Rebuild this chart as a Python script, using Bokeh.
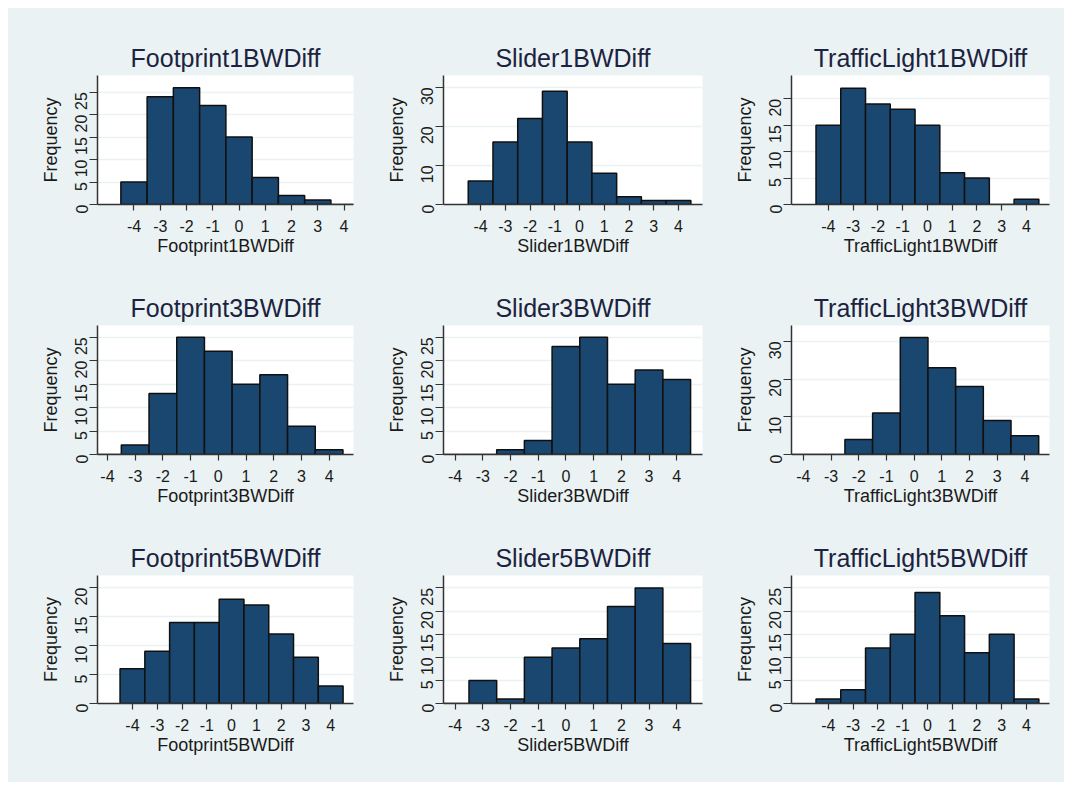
import math
from bokeh.plotting import figure
from bokeh.layouts import column, row
from bokeh.models import FixedTicker, Range1d, Spacer
from bokeh.embed import file_html
from bokeh.resources import INLINE

# ---- data ----
bins = [-4, -3, -2, -1, 0, 1, 2, 3, 4]
x_ticks = [-4, -3, -2, -1, 0, 1, 2, 3, 4]

footprint1 = [5, 24, 26, 22, 15, 6, 2, 1, 0]
slider1 = [6, 16, 22, 29, 16, 8, 2, 1, 1]
traffic1 = [15, 22, 19, 18, 15, 6, 5, 0, 1]
footprint3 = [0, 2, 13, 25, 22, 15, 17, 6, 1]
slider3 = [0, 0, 1, 3, 23, 25, 15, 18, 16]
traffic3 = [0, 0, 4, 11, 31, 23, 18, 9, 5]
footprint5 = [6, 9, 14, 14, 18, 17, 12, 8, 3]
slider5 = [0, 5, 1, 10, 12, 14, 21, 25, 13]
traffic5 = [1, 3, 12, 15, 24, 19, 11, 15, 1]

names = ["Footprint1BWDiff", "Slider1BWDiff", "TrafficLight1BWDiff",
         "Footprint3BWDiff", "Slider3BWDiff", "TrafficLight3BWDiff",
         "Footprint5BWDiff", "Slider5BWDiff", "TrafficLight5BWDiff"]
series = [footprint1, slider1, traffic1,
          footprint3, slider3, traffic3,
          footprint5, slider5, traffic5]
y_ticks = [[0, 5, 10, 15, 20, 25], [0, 10, 20, 30], [0, 5, 10, 15, 20],
           [0, 5, 10, 15, 20, 25], [0, 5, 10, 15, 20, 25], [0, 10, 20, 30],
           [0, 5, 10, 15, 20], [0, 5, 10, 15, 20, 25], [0, 5, 10, 15, 20, 25]]

# ---- layout / style ----
y_max = [28.7, 33.0, 24.4, 27.5, 27.5, 34.2, 22.1, 27.7, 27.7]
x_lo = [-5.39, -5.5, -5.49, -4.36, -4.42, -4.43, -5.41, -4.42, -5.49]
x_hi = [4.36, 4.97, 4.93, 4.88, 4.93, 4.89, 4.92, 4.93, 4.93]

col_w = 352
col_left = [89, 83, 79]
col_right = [7, 10, 15]
row_h = [250, 250, 274]
row_top = [67, 67, 67]
row_bottom = [53, 54, 79]

BG = "#EAF2F3"
BAR = "#1a476f"
FONT = "Liberation Sans"
TXT = "#1a1a1a"

figs = []
for i in range(9):
    r, c = divmod(i, 3)
    p = figure(width=col_w, height=row_h[r], output_backend="svg",
               toolbar_location=None,
               x_range=Range1d(x_lo[i], x_hi[i]),
               y_range=Range1d(0, y_max[i]),
               min_border_left=col_left[c], min_border_right=col_right[c],
               min_border_top=row_top[r], min_border_bottom=row_bottom[r])
    p.border_fill_color = BG
    p.background_fill_color = "white"
    p.outline_line_color = None

    p.vbar(x=bins, top=series[i], width=1.0, bottom=0,
           fill_color=BAR, line_color="#101010", line_width=1.5)

    p.title.text = names[i]
    p.title.align = "center"
    p.title.text_font = FONT
    p.title.text_font_size = "25px"
    p.title.text_font_style = "normal"
    p.title.text_color = "#1c2340"
    p.title.standoff = 8

    p.xaxis.ticker = FixedTicker(ticks=x_ticks)
    p.yaxis.ticker = FixedTicker(ticks=y_ticks[i])
    p.xaxis.major_label_overrides = {t: str(t) for t in x_ticks}
    p.xaxis.axis_label = names[i]
    p.yaxis.axis_label = "Frequency"
    for ax in (p.xaxis, p.yaxis):
        ax.axis_line_color = "#333333"
        ax.axis_line_width = 1.5
        ax.major_tick_line_color = "#333333"
        ax.major_tick_line_width = 1.2
        ax.major_tick_in = 0
        ax.minor_tick_line_color = None
        ax.major_label_text_font = FONT
        ax.major_label_text_font_size = "16px"
        ax.major_label_text_color = TXT
        ax.axis_label_text_font = FONT
        ax.axis_label_text_font_size = "18px"
        ax.axis_label_text_font_style = "normal"
        ax.axis_label_text_color = TXT
    p.xaxis.major_tick_out = 6
    p.yaxis.major_tick_out = 8
    p.xaxis.major_label_standoff = 9
    p.yaxis.major_label_standoff = 8
    p.xaxis.axis_label_standoff = 1
    p.yaxis.axis_label_standoff = 6
    p.yaxis.major_label_orientation = math.pi / 2

    p.xgrid.grid_line_color = None
    p.ygrid.grid_line_color = BG
    p.ygrid.grid_line_width = 1.5
    figs.append(p)

grid = column(row(*figs[0:3], styles={"background-color": BG}),
              row(*figs[3:6], styles={"background-color": BG}),
              row(*figs[6:9], styles={"background-color": BG}),
              styles={"background-color": BG})
layout = column(Spacer(height=8, width=1064), row(Spacer(width=8, height=774), grid))
open("out.html", "w").write(file_html(layout, INLINE))
